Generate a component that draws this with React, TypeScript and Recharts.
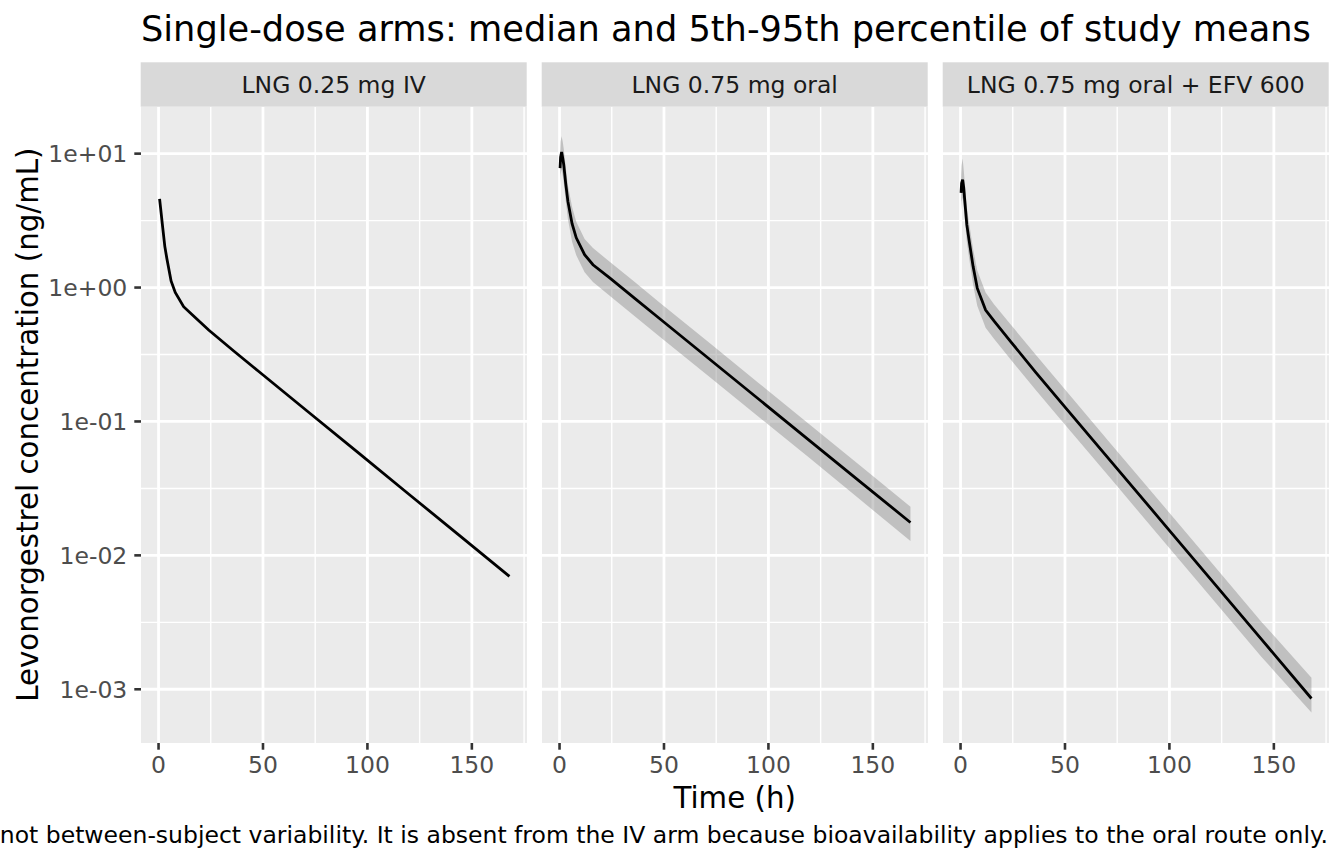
import { ComposedChart, Line, Area, XAxis, YAxis, CartesianGrid, ReferenceLine } from 'recharts'

// sampling times (h)
const ivTimes = [0.5, 1, 2, 3, 4, 6, 8, 12, 16, 24, 36, 48, 72, 96, 120, 144, 168]
const oralTimes = [0.25, 0.5, 1, 1.5, 2, 3, 4, 6, 8, 12, 16, 24, 36, 48, 72, 96, 120, 144, 168]

// LNG 0.25 mg IV (no ribbon)
const ivMedian = [4.6, 3.9, 2.8, 2.03, 1.64, 1.12, 0.92, 0.72, 0.63, 0.482, 0.336, 0.236, 0.1167, 0.0577, 0.0285, 0.0141, 0.00697]

// LNG 0.75 mg oral
const oralMedian = [7.8, 9.4, 10.3, 9.3, 8.3, 5.9, 4.4, 3.0, 2.35, 1.76, 1.48, 1.18, 0.83, 0.585, 0.29, 0.144, 0.0713, 0.0354, 0.0176]
const oralLow = [5.8, 7.0, 7.6, 6.9, 6.1, 4.4, 3.25, 2.2, 1.74, 1.3, 1.1, 0.87, 0.61, 0.43, 0.214, 0.106, 0.053, 0.026, 0.0128]
const oralHigh = [10.2, 12.3, 13.5, 12.3, 10.9, 7.8, 5.8, 4.0, 3.1, 2.3, 1.97, 1.56, 1.1, 0.77, 0.383, 0.19, 0.094, 0.0467, 0.0231]

// LNG 0.75 mg oral + EFV 600
const efvMedian = [5.1, 6.0, 6.4, 5.6, 4.5, 2.95, 2.3, 1.44, 0.99, 0.68, 0.564, 0.395, 0.233, 0.1396, 0.0504, 0.0182, 0.00656, 0.00237, 0.000853]
const efvLow = [3.8, 4.4, 4.7, 4.1, 3.3, 2.2, 1.7, 1.06, 0.73, 0.5, 0.415, 0.29, 0.172, 0.103, 0.0373, 0.0134, 0.00485, 0.00175, 0.00067]
const efvHigh = [6.9, 8.2, 9.2, 7.6, 6.1, 4.0, 3.1, 1.94, 1.34, 0.92, 0.75, 0.53, 0.315, 0.189, 0.068, 0.0246, 0.0089, 0.0032, 0.00122]

const panelTitles = ['LNG 0.25 mg IV', 'LNG 0.75 mg oral', 'LNG 0.75 mg oral + EFV 600']
const xTicks = [0, 50, 100, 150]
const xMinor = [25, 75, 125, 175]
const yTicks = [0.001, 0.01, 0.1, 1, 10]
const yTickLabels = ['1e-03', '1e-02', '1e-01', '1e+00', '1e+01']
const yMinor = [0.00316, 0.0316, 0.316, 3.16]

const X_DOMAIN: [number, number] = [-8.4, 176.4]
const Y_DOMAIN: [number, number] = [3.97e-4, 22.3]

const FONT = '"DejaVu Sans", sans-serif'
const PLOT_TOP = 106.7
const PLOT_W = 386
const PLOT_H = 636
const Y_AXIS_W = 120
const X_AXIS_H = 50
const panelLefts = [140.7, 541.7, 942.7]

const ivData = ivTimes.map((t, i) => ({ t, med: ivMedian[i] }))
const oralData = oralTimes.map((t, i) => ({ t, med: oralMedian[i], band: [oralLow[i], oralHigh[i]] }))
const efvData = oralTimes.map((t, i) => ({ t, med: efvMedian[i], band: [efvLow[i], efvHigh[i]] }))

const tickStyle = { fill: '#4D4D4D', fontSize: 23.5, fontFamily: FONT }
const tickLine = { stroke: '#333333', strokeWidth: 2.6 }

interface PanelProps {
  data: { t: number; med: number; band?: number[] }[]
  left: number
  showBand: boolean
  showY: boolean
}

function Panel({ data, left, showBand, showY }: PanelProps) {
  const w = PLOT_W + (showY ? Y_AXIS_W : 0)
  return (
    <div style={{ position: 'absolute', left: left - (showY ? Y_AXIS_W : 0), top: PLOT_TOP }}>
      <ComposedChart width={w} height={PLOT_H + X_AXIS_H} data={data} margin={{ top: 0, right: 0, bottom: 0, left: 0 }}>
        <CartesianGrid fill="#EBEBEB" horizontal={false} vertical={false} />
        <XAxis
          dataKey="t"
          type="number"
          domain={X_DOMAIN}
          allowDataOverflow
          ticks={xTicks}
          interval={0}
          height={X_AXIS_H}
          axisLine={false}
          tickLine={tickLine}
          tickSize={6.7}
          tickMargin={7}
          tick={tickStyle}
        />
        <YAxis
          type="number"
          scale="log"
          domain={Y_DOMAIN}
          allowDataOverflow
          ticks={yTicks}
          interval={0}
          hide={!showY}
          width={Y_AXIS_W}
          axisLine={false}
          tickLine={tickLine}
          tickSize={6.7}
          tickMargin={7}
          tick={tickStyle}
          tickFormatter={(v: number) => yTickLabels[yTicks.indexOf(v)] ?? ''}
        />
        {yMinor.map((y) => (
          <ReferenceLine key={`ym${y}`} y={y} stroke="#FFFFFF" strokeWidth={1.4} zIndex={-50} />
        ))}
        {xMinor.map((x) => (
          <ReferenceLine key={`xm${x}`} x={x} stroke="#FFFFFF" strokeWidth={1.4} zIndex={-50} />
        ))}
        {yTicks.map((y) => (
          <ReferenceLine key={`y${y}`} y={y} stroke="#FFFFFF" strokeWidth={2.8} zIndex={-50} />
        ))}
        {xTicks.map((x) => (
          <ReferenceLine key={`x${x}`} x={x} stroke="#FFFFFF" strokeWidth={2.8} zIndex={-50} />
        ))}
        {showBand && (
          <Area
            dataKey="band"
            type="linear"
            stroke="none"
            fill="#7F7F7F"
            fillOpacity={0.4}
            isAnimationActive={false}
            dot={false}
            activeDot={false}
          />
        )}
        <Line
          dataKey="med"
          type="linear"
          stroke="#000000"
          strokeWidth={2.8}
          dot={false}
          activeDot={false}
          isAnimationActive={false}
        />
      </ComposedChart>
    </div>
  )
}

export default function App() {
  return (
    <div style={{ position: 'absolute', left: 0, top: 0, width: 1344, height: 864, background: '#FFFFFF', fontFamily: FONT }}>
      <svg width={1344} height={864} style={{ position: 'absolute', left: 0, top: 0 }}>
        <text x={141} y={41} fontSize={35.2} fill="#000000" fontFamily={FONT}>
          Single-dose arms: median and 5th-95th percentile of study means
        </text>
        {panelTitles.map((title, i) => (
          <g key={title}>
            <rect x={panelLefts[i]} y={62.3} width={PLOT_W} height={44.4} fill="#D9D9D9" />
            <text x={panelLefts[i] + PLOT_W / 2} y={93} fontSize={23.5} fill="#1A1A1A" textAnchor="middle" fontFamily={FONT}>
              {title}
            </text>
          </g>
        ))}
        <text
          transform="translate(38,424.7) rotate(-90)"
          fontSize={29.3}
          fill="#000000"
          textAnchor="middle"
          fontFamily={FONT}
        >
          Levonorgestrel concentration (ng/mL)
        </text>
        <text x={734.7} y={807.7} fontSize={29.3} fill="#000000" textAnchor="middle" fontFamily={FONT}>
          Time (h)
        </text>
        <text x={1328} y={843} fontSize={23.5} fill="#000000" textAnchor="end" fontFamily={FONT}>
          not between-subject variability. It is absent from the IV arm because bioavailability applies to the oral route only.
        </text>
      </svg>
      <Panel data={ivData} left={panelLefts[0]} showBand={false} showY />
      <Panel data={oralData} left={panelLefts[1]} showBand showY={false} />
      <Panel data={efvData} left={panelLefts[2]} showBand showY={false} />
    </div>
  )
}
